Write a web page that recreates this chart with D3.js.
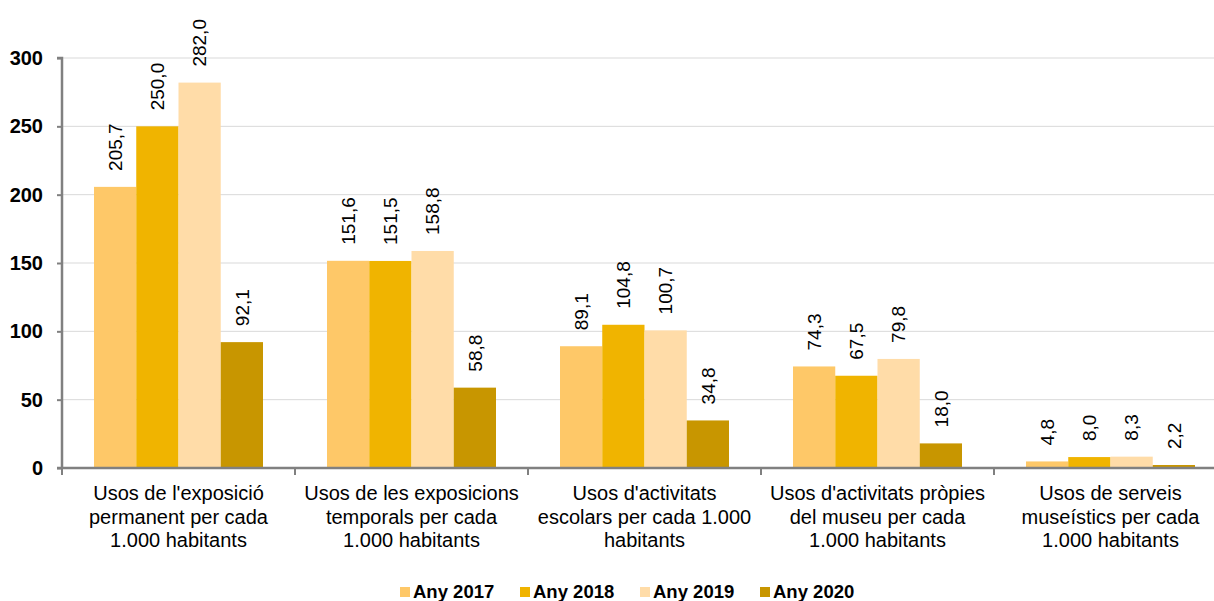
<!DOCTYPE html>
<html>
<head>
<meta charset="utf-8">
<script src="https://cdn.jsdelivr.net/npm/d3@7"></script>
<style>
  body { margin: 0; background: #fff; }
  svg { display: block; font-family: Arial, "Liberation Sans", sans-serif; }
</style>
</head>
<body>
<svg width="1214" height="601"></svg>
<script>
const categories = [
  ["Usos de l'exposició", "permanent per cada", "1.000 habitants"],
  ["Usos de les exposicions", "temporals per cada", "1.000 habitants"],
  ["Usos d'activitats", "escolars per cada 1.000", "habitants"],
  ["Usos d'activitats pròpies", "del museu per cada", "1.000 habitants"],
  ["Usos de serveis", "museístics per cada", "1.000 habitants"]
];
const seriesNames = ["Any 2017", "Any 2018", "Any 2019", "Any 2020"];
const any2017 = [205.7, 151.6, 89.1, 74.3, 4.8];
const any2018 = [250.0, 151.5, 104.8, 67.5, 8.0];
const any2019 = [282.0, 158.8, 100.7, 79.8, 8.3];
const any2020 = [92.1, 58.8, 34.8, 18.0, 2.2];
const yTicks = [0, 50, 100, 150, 200, 250, 300];
const colors = ["#fec868", "#f0b400", "#ffdca8", "#c89600"];

const series = [any2017, any2018, any2019, any2020];

const svg = d3.select("svg");
const plotLeft = 62, plotRight = 1227, plotTop = 58, plotBottom = 468;

const x0 = d3.scaleBand().domain(d3.range(categories.length)).range([plotLeft, plotRight]).padding(0);
const x1 = d3.scaleBand().domain(d3.range(series.length))
  .range([32, x0.bandwidth() - 32]).padding(0);
const y = d3.scaleLinear().domain([0, 300]).range([plotBottom, plotTop]);
const fmt = v => v.toFixed(1).replace(".", ",");

// gridlines
svg.append("g").selectAll("line")
  .data(yTicks.filter(d => d > 0))
  .join("line")
  .attr("x1", plotLeft).attr("x2", 1214)
  .attr("y1", d => y(d)).attr("y2", d => y(d))
  .attr("stroke", "#d9d9d9").attr("stroke-width", 1);

// bars
const groups = svg.append("g").selectAll("g")
  .data(categories.map((c, i) => i))
  .join("g")
  .attr("transform", i => `translate(${x0(i)},0)`);

groups.selectAll("rect")
  .data(i => series.map((s, k) => ({ k, v: s[i] })))
  .join("rect")
  .attr("x", d => x1(d.k))
  .attr("width", x1.bandwidth())
  .attr("y", d => y(d.v))
  .attr("height", d => y(0) - y(d.v))
  .attr("fill", d => colors[d.k]);

// value labels
groups.selectAll("text")
  .data(i => series.map((s, k) => ({ k, v: s[i] })))
  .join("text")
  .attr("transform", d => `translate(${x1(d.k) + x1.bandwidth() / 2},${y(d.v) - 16}) rotate(-90)`)
  .attr("dy", "0.35em")
  .attr("font-size", 19)
  .attr("fill", "#000")
  .text(d => fmt(d.v));

// y axis
const yAxis = svg.append("g")
  .attr("transform", `translate(${plotLeft},0)`)
  .call(d3.axisLeft(y).tickValues(yTicks).tickSize(5).tickPadding(14));
yAxis.select(".domain").attr("stroke", "#808080").attr("stroke-width", 2.5).attr("d", `M-5,${plotTop}H0V${plotBottom}`);
yAxis.selectAll(".tick line").attr("stroke", "#808080").attr("stroke-width", 2);
yAxis.selectAll(".tick text")
  .attr("font-size", 20).attr("font-weight", "bold")
  .attr("font-family", "Arial, 'Liberation Sans', sans-serif").attr("fill", "#000");

// x axis with boundary ticks
const xAxisG = svg.append("g");
xAxisG.append("line")
  .attr("x1", plotLeft - 5).attr("x2", 1214)
  .attr("y1", plotBottom).attr("y2", plotBottom)
  .attr("stroke", "#808080").attr("stroke-width", 2.5);
xAxisG.selectAll("line.b")
  .data(d3.range(categories.length + 1))
  .join("line")
  .attr("class", "b")
  .attr("x1", i => plotLeft + i * x0.step()).attr("x2", i => plotLeft + i * x0.step())
  .attr("y1", plotBottom).attr("y2", plotBottom + 7)
  .attr("stroke", "#808080").attr("stroke-width", 2);

// category labels
const catText = svg.append("g").selectAll("text")
  .data(categories)
  .join("text")
  .attr("text-anchor", "middle")
  .attr("font-size", 20)
  .attr("fill", "#000");
catText.selectAll("tspan")
  .data((d, i) => d.map(line => ({ line, i })))
  .join("tspan")
  .attr("x", d => x0(d.i) + x0.bandwidth() / 2)
  .attr("y", (d, j) => 500 + j * 23.5)
  .text(d => d.line);

// legend
const legend = svg.append("g").selectAll("g")
  .data(seriesNames)
  .join("g")
  .attr("transform", (d, i) => `translate(${400 + i * 120},592)`);
legend.append("rect")
  .attr("x", 0).attr("y", -5).attr("width", 10).attr("height", 10)
  .attr("fill", (d, i) => colors[i]);
legend.append("text")
  .attr("x", 13).attr("dy", "0.35em")
  .attr("font-size", 18.5).attr("font-weight", "bold").attr("fill", "#000")
  .text(d => d);
</script>
</body>
</html>
